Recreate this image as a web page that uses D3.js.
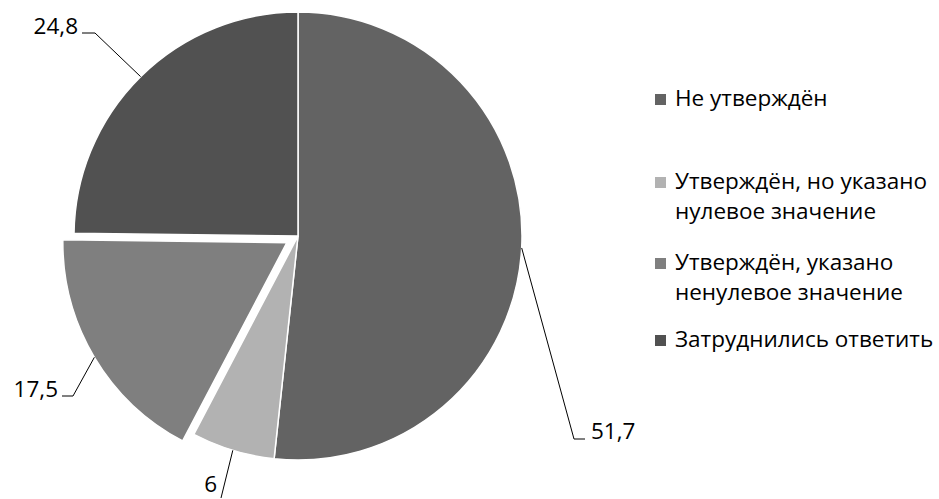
<!DOCTYPE html>
<html>
<head>
<meta charset="utf-8">
<script src="https://cdn.jsdelivr.net/npm/d3@7"></script>
<style>
    body { margin: 0; background: #fff; }
    text { font-family: "Open Sans", sans-serif; fill: #000; }
</style>
</head>
<body>
<div id="container"></div>
<script>
const categories = [
    "Не утверждён",
    "Утверждён, но указано нулевое значение",
    "Утверждён, указано ненулевое значение",
    "Затруднились ответить"
]
const values = [51.7, 6, 17.5, 24.8]
const valueLabels = ["51,7", "6", "17,5", "24,8"]
const legendLines = [
    ["Не утверждён"],
    ["Утверждён, но указано", "нулевое значение"],
    ["Утверждён, указано", "ненулевое значение"],
    ["Затруднились ответить"]
]
const colors = ["#636363", "#b2b2b2", "#7f7f7f", "#515151"]

const width = 939
const height = 499
const center = { x: 298, y: 236 }
const radius = 224
const explodeIdx = 2
const explodeBy = 13
const fontSize = 22.5

// elbow + label anchor for each slice (layout only)
const labelLayout = [
    { elbow: [574, 439], end: [585, 439], text: [591, 439], anchor: "start" },
    { elbow: [221, 498], end: [221, 498], text: [217, 492], anchor: "end" },
    { elbow: [73, 396], end: [62, 396], text: [58, 397], anchor: "end" },
    { elbow: [95, 33], end: [82, 33], text: [78, 34], anchor: "end" }
]
const legendBase = [106, 189, 270, 347]
const lineGap = 30

const svg = d3.select('#container')
    .append('svg').attr('width', width).attr('height', height)

const pie = d3.pie().sort(null).value(d => d)
const arcs = pie(values)
const arc = d3.arc().innerRadius(0).outerRadius(radius)
const edge = d3.arc().innerRadius(radius).outerRadius(radius)

const g = svg.append("g").attr("transform", `translate(${center.x},${center.y})`)

const offsetOf = (d, i) => {
    if (i !== explodeIdx) return [0, 0]
    const a = (d.startAngle + d.endAngle) / 2
    return [Math.sin(a) * explodeBy, -Math.cos(a) * explodeBy]
}

g.selectAll("path.slice")
    .data(arcs)
    .join("path")
    .attr("class", "slice")
    .attr("d", arc)
    .attr("transform", (d, i) => `translate(${offsetOf(d, i)})`)
    .attr("fill", (d, i) => colors[i])
    .attr("stroke", "#fff")
    .attr("stroke-width", 1.5)

// leader lines
arcs.forEach((d, i) => {
    const off = offsetOf(d, i)
    const c = edge.centroid(d)
    const p0 = [center.x + c[0] + off[0], center.y + c[1] + off[1]]
    const L = labelLayout[i]
    svg.append("path")
        .attr("d", d3.line()([p0, L.elbow, L.end]))
        .attr("fill", "none")
        .attr("stroke", "#000")
        .attr("stroke-width", 1)
    svg.append("text")
        .attr("x", L.text[0])
        .attr("y", L.text[1])
        .attr("text-anchor", L.anchor)
        .attr("font-size", fontSize)
        .text(valueLabels[i])
})

// legend
const legend = svg.append("g")
categories.forEach((c, i) => {
    const base = legendBase[i]
    legend.append("rect")
        .attr("x", 655).attr("y", base - 12)
        .attr("width", 11).attr("height", 11)
        .attr("fill", colors[i])
    legendLines[i].forEach((line, j) => {
        legend.append("text")
            .attr("x", 675)
            .attr("y", base + j * lineGap)
            .attr("font-size", fontSize)
            .text(line)
    })
})
</script>
</body>
</html>
